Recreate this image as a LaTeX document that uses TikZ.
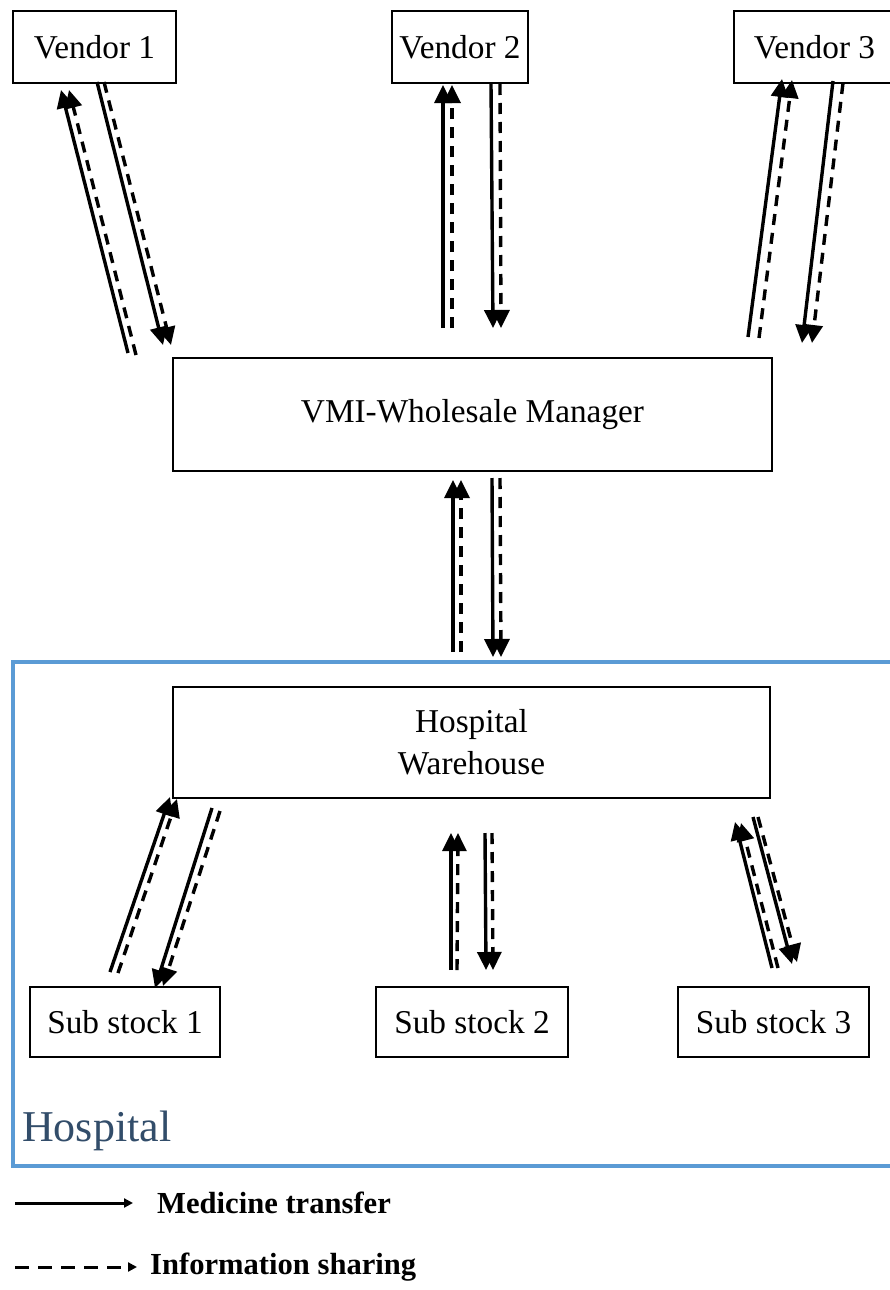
\documentclass[tikz,border=0pt]{standalone}
\usepackage{fontspec}
\setmainfont{Liberation Serif}
\usetikzlibrary{arrows.meta}
\definecolor{hosblue}{RGB}{91,155,213}
\definecolor{hostext}{RGB}{50,77,106}
\tikzset{
  box/.style={draw, line width=1.4pt, inner sep=0pt, align=center,
    font=\fontsize{33.3}{41}\selectfont},
  med/.style={line width=3.4pt, -{Triangle[length=18pt,width=17pt]}},
  info/.style={med, dash pattern=on 11pt off 8pt},
  legmed/.style={line width=3pt, -{Triangle[length=9pt,width=9pt]}},
  leginfo/.style={legmed, dash pattern=on 14pt off 9pt},
  legtext/.style={anchor=west, inner sep=0pt, font=\fontsize{30.6}{36}\selectfont\bfseries}
}
\begin{document}
\begin{tikzpicture}[x=1pt,y=-1pt]
\useasboundingbox (0,0) rectangle (889,1290);
\fill[white] (0,0) rectangle (889,1290);

% hospital frame
\draw[hosblue, line width=4pt] (13,662) rectangle (900,1166);
\node[anchor=west, inner sep=0pt, text=hostext, font=\fontsize{44}{50}\selectfont] (hlabel) at (22,1131) {Hospital};

% boxes
\node[box, minimum width=163pt, minimum height=72pt] (v1) at (94.5,47) {Vendor 1};
\node[box, minimum width=136pt, minimum height=72pt] (v2) at (460,47) {Vendor 2};
\node[box, minimum width=161pt, minimum height=72pt] (v3) at (814.5,47) {Vendor 3};
\node[box, minimum width=599pt, minimum height=113pt] (vmi) at (472.5,414.5) {VMI-Wholesale Manager};
\node[box, minimum width=597pt, minimum height=111pt] (hw) at (471.5,742.5) {Hospital\\[1pt]Warehouse};
\node[box, minimum width=190pt, minimum height=70pt] (s1) at (125,1022) {Sub stock 1};
\node[box, minimum width=192pt, minimum height=70pt] (s2) at (472,1022) {Sub stock 2};
\node[box, minimum width=191pt, minimum height=70pt] (s3) at (773.5,1022) {Sub stock 3};

% connector end points
\coordinate (v1ua) at (128,353); \coordinate (v1ub) at (61,90);
\coordinate (v1uc) at (136,355); \coordinate (v1ud) at (69,90);
\coordinate (v1da) at (97,82);   \coordinate (v1db) at (163,345);
\coordinate (v1dc) at (104,82);  \coordinate (v1dd) at (171,345);

\coordinate (v2ua) at (443,328); \coordinate (v2ub) at (443,85);
\coordinate (v2uc) at (452,328); \coordinate (v2ud) at (452,85);
\coordinate (v2da) at (491,84);  \coordinate (v2db) at (493,328);
\coordinate (v2dc) at (500,84);  \coordinate (v2dd) at (501,328);

\coordinate (v3ua) at (748,337); \coordinate (v3ub) at (782,79);
\coordinate (v3uc) at (759,338); \coordinate (v3ud) at (792,80);
\coordinate (v3da) at (833,81);  \coordinate (v3db) at (802,343);
\coordinate (v3dc) at (843,83);  \coordinate (v3dd) at (812,343);

\coordinate (mua) at (453,652); \coordinate (mub) at (453,480);
\coordinate (muc) at (461,652); \coordinate (mud) at (461,480);
\coordinate (mda) at (492,478); \coordinate (mdb) at (493,657);
\coordinate (mdc) at (500,478); \coordinate (mdd) at (501,657);

\coordinate (s1ua) at (110,972); \coordinate (s1ub) at (170,797);
\coordinate (s1uc) at (118,973); \coordinate (s1ud) at (177,799);
\coordinate (s1da) at (212,808); \coordinate (s1db) at (155,988);
\coordinate (s1dc) at (220,811); \coordinate (s1dd) at (163,986);

\coordinate (s2ua) at (451,970); \coordinate (s2ub) at (451,833);
\coordinate (s2uc) at (457,970); \coordinate (s2ud) at (458,833);
\coordinate (s2da) at (485,833); \coordinate (s2db) at (486,970);
\coordinate (s2dc) at (492,833); \coordinate (s2dd) at (493,970);

\coordinate (s3ua) at (772,968); \coordinate (s3ub) at (735,822);
\coordinate (s3uc) at (778,968); \coordinate (s3ud) at (741,823);
\coordinate (s3da) at (753,817); \coordinate (s3db) at (792,964);
\coordinate (s3dc) at (758,817); \coordinate (s3dd) at (797,962);

% connectors
\foreach \p in {v1,v2,v3,m,s1,s2,s3}{
  \draw[med]  (\p ua) -- (\p ub);
  \draw[info] (\p uc) -- (\p ud);
  \draw[med]  (\p da) -- (\p db);
  \draw[info] (\p dc) -- (\p dd);
}

% legend
\coordinate (l1a) at (15,1203); \coordinate (l1b) at (133,1203);
\coordinate (l2a) at (15,1267); \coordinate (l2b) at (137,1267);
\draw[legmed] (l1a) -- (l1b);
\draw[leginfo] (l2a) -- (l2b);
\node[legtext] (t1) at (157,1203) {Medicine transfer};
\node[legtext] (t2) at (150,1267) {Information sharing};
\end{tikzpicture}
\end{document}
